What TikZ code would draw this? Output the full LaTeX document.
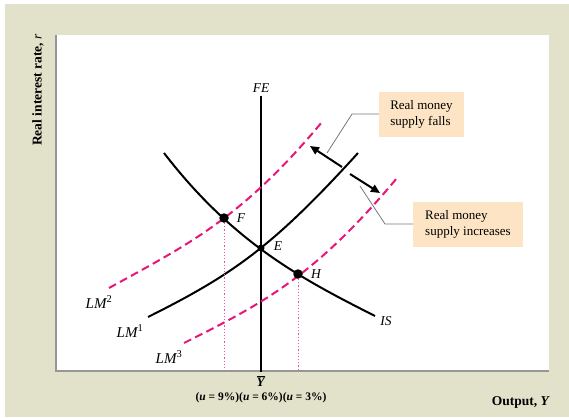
\documentclass[tikz,border=0pt]{standalone}
\usepackage{fontspec}
\setmainfont{Liberation Serif}
\usetikzlibrary{arrows.meta}
\definecolor{bg}{RGB}{226,226,203}
\definecolor{boxfill}{RGB}{252,228,196}
\definecolor{lmpink}{RGB}{232,22,120}
\definecolor{dotpink}{RGB}{240,80,170}
\definecolor{axisgray}{RGB}{150,150,150}
\begin{document}
\begin{tikzpicture}[x=1pt,y=-1pt,
  curve/.style={line width=2pt, black},
  lmdash/.style={line width=2pt, lmpink, dash pattern=on 8pt off 4.5pt},
  guide/.style={dotpink, line width=1pt, dash pattern=on 1.2pt off 2pt},
  eqpt/.style={circle, fill=black, inner sep=0pt, minimum size=9.5pt},
  lbl/.style={font=\fontsize{13.5}{15}\selectfont\itshape, inner sep=0pt},
  lmlbl/.style={font=\fontsize{15}{17}\selectfont\itshape, inner sep=0pt},
  callout/.style={fill=boxfill, font=\fontsize{13}{16}\selectfont, align=left, inner sep=0pt},
  leader/.style={axisgray!80!black, line width=0.8pt},
  shiftarrow/.style={line width=2pt, -{Triangle[length=9pt,width=8pt]}},
  axislbl/.style={font=\fontsize{13.5}{15}\selectfont\bfseries, inner sep=0pt}
]
\useasboundingbox (0,0) rectangle (569,417);
% background
\fill[bg] (5,4) rectangle (569,417);
\fill[white] (56,35) rectangle (549,371);
% axes
\coordinate (origin) at (56,371);
\coordinate (ytop) at (56,35);
\coordinate (xend) at (549,371);
\draw[axisgray, line width=1.4pt] (ytop) -- (origin) -- (xend);
\node[axislbl, rotate=90] (ylab) at (38,90) {Real interest rate, \textmd{\textit{r}}};
\node[axislbl, anchor=east] (xlab) at (550,402) {Output, \textit{Y}};
% FE line
\coordinate (fetop) at (261,96);
\coordinate (febot) at (261,372);
\draw[curve] (fetop) -- (febot);
\node[lbl] (felab) at (261,88) {FE};
% curves
\draw[curve] (164,153) .. controls (234,244) and (304,280) .. (375,316);
\draw[curve] (148,317) .. controls (233,274.5) and (273,246.5) .. (358,153);
\draw[lmdash] (109,288) .. controls (189,244) and (242,218) .. (322,122);
\draw[lmdash] (184,343) .. controls (264,303) and (315,276) .. (397,178);
% points
\node[eqpt] (F) at (224,218) {};
\node[eqpt] (H) at (298,274) {};
\coordinate (E) at (261,248);
\coordinate (Fbase) at (224,371);
\coordinate (Hbase) at (298,371);
\draw[guide] (F) -- (Fbase);
\draw[guide] (H) -- (Hbase);
\node[eqpt, minimum size=7pt] (Edot) at (E) {};
\node[lbl] (Flab) at (241,218) {F};
\node[lbl] (Elab) at (278,246) {E};
\node[lbl] (Hlab) at (316,274) {H};
\node[lbl] (islab) at (386,321) {IS};
\node[lmlbl] (lm1) at (130,331) {LM\textsuperscript{\upshape 1}};
\node[lmlbl] (lm2) at (99,302) {LM\textsuperscript{\upshape 2}};
\node[lmlbl] (lm3) at (169,357) {LM\textsuperscript{\upshape 3}};
% bottom labels
\node[font=\fontsize{13}{15}\selectfont\bfseries, inner sep=0pt] (ybar) at (261,381) {\shortstack{\rule{8pt}{0.9pt}\\[-1.5pt]\textit{Y}}};
\node[font=\fontsize{11.5}{13}\selectfont\bfseries, inner sep=0pt] (urates) at (261,398) {(\textit{u} = 9\%)(\textit{u} = 6\%)(\textit{u} = 3\%)};
% callouts
\node[callout, minimum width=85pt, minimum height=45pt] (box1) at (421.5,114.5) {Real money\\supply falls};
\node[callout, minimum width=110pt, minimum height=45pt] (box2) at (468,224.5) {Real money\\supply increases};
\coordinate (b1k) at (352,114);
\coordinate (b1e) at (327,153);
\coordinate (b2k) at (385,224);
\coordinate (b2e) at (360,186);
\draw[leader] (box1.west |- b1k) -- (b1k) -- (b1e);
\draw[leader] (box2.west |- b2k) -- (b2k) -- (b2e);
% shift arrows
\coordinate (a1s) at (342,167);
\coordinate (a1t) at (310,146);
\coordinate (a2s) at (350,174);
\coordinate (a2t) at (380,193);
\draw[shiftarrow] (a1s) -- (a1t);
\draw[shiftarrow] (a2s) -- (a2t);
\end{tikzpicture}
\end{document}
